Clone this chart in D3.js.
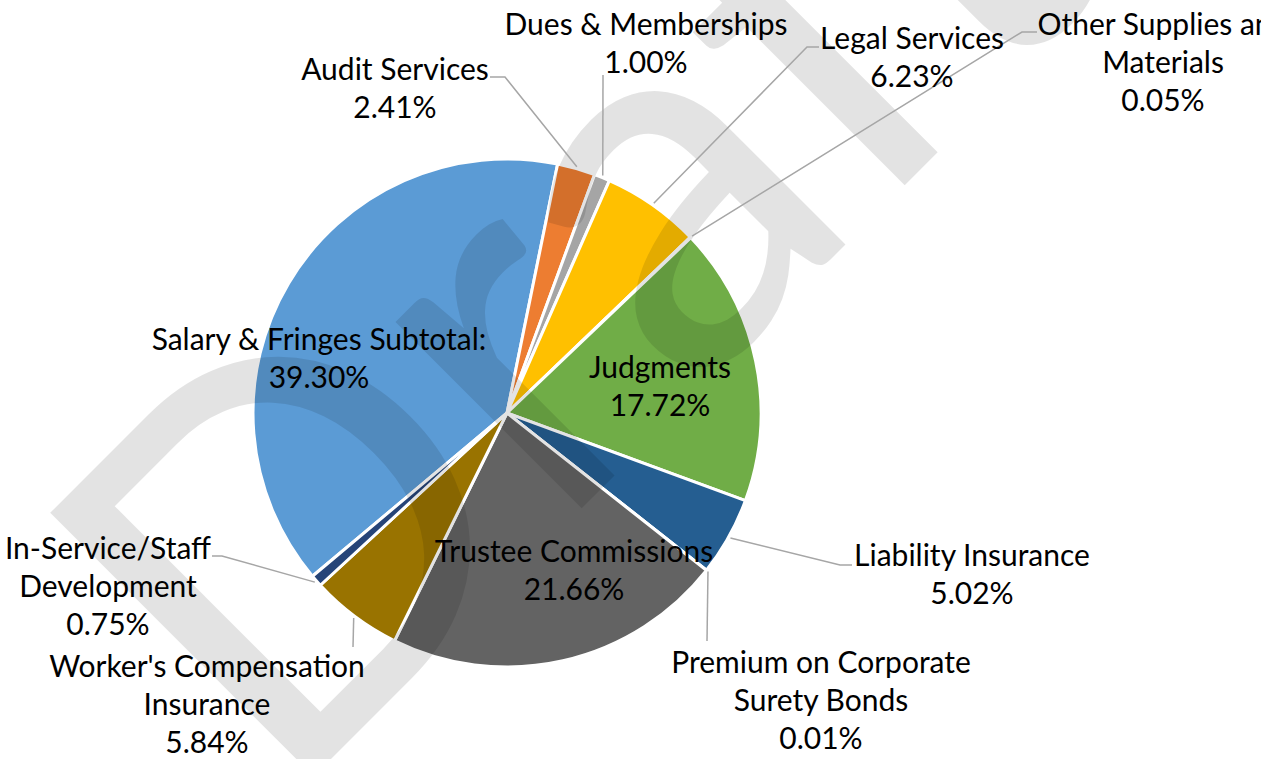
<!DOCTYPE html>
<html>
<head>
<meta charset="utf-8">
<script src="https://cdn.jsdelivr.net/npm/d3@7"></script>
<style>
  body { margin: 0; background: #fff; }
  text { font-family: Lato, "Open Sans", sans-serif; }
</style>
</head>
<body>
<div id="chart"></div>
<script>
var categories = ["Salary & Fringes Subtotal:", "Audit Services", "Dues & Memberships", "Legal Services",
  "Other Supplies and Materials", "Judgments", "Liability Insurance", "Premium on Corporate Surety Bonds",
  "Trustee Commissions", "Worker's Compensation Insurance", "In-Service/Staff Development"];
var values = [39.30, 2.41, 1.00, 6.23, 0.05, 17.72, 5.02, 0.01, 21.66, 5.84, 0.75];
var colors = ["#5B9BD5", "#ED7D31", "#A5A5A5", "#FFC000", "#4472C4", "#70AD47",
  "#255E91", "#9E480E", "#636363", "#997300", "#264478"];

// how each category name wraps in its label
var labelLines = [
  ["Salary & Fringes Subtotal:"], ["Audit Services"], ["Dues & Memberships"], ["Legal Services"],
  ["Other Supplies and", "Materials"], ["Judgments"], ["Liability Insurance"],
  ["Premium on Corporate", "Surety Bonds"], ["Trustee Commissions"],
  ["Worker's Compensation", "Insurance"], ["In-Service/Staff", "Development"]
];

// label placement: centre x, first baseline, leader line points after the slice (empty = none)
var labelPos = [
  {x: 319, y: 350, lead: []},
  {x: 395, y: 80, lead: [[505, 77], [490, 77]]},
  {x: 646, y: 35, lead: [[603, 75]]},
  {x: 912, y: 49, lead: [[807, 47], [819, 47]]},
  {x: 1163, y: 35, lead: [[1022, 32], [1037, 32]]},
  {x: 660, y: 378, lead: []},
  {x: 972, y: 566, lead: [[840, 565], [852, 565]]},
  {x: 821, y: 673, lead: [[707, 641]]},
  {x: 574, y: 562, lead: []},
  {x: 207, y: 677, lead: [[353, 647]]},
  {x: 108, y: 559, lead: [[222, 556], [212, 556]]}
];

var width = 1261;
var height = 759;
var cx = 507, cy = 413;
var radius = 254;
var lineH = 38;

var data = categories.map(function(c, i) {
  return {name: c, value: values[i], color: colors[i], lines: labelLines[i], pos: labelPos[i]};
});

var svg = d3.select("#chart")
  .append("svg")
  .attr("width", width)
  .attr("height", height);

var pie = d3.pie()
  .value(function(d) { return d.value; })
  .sort(null)
  .startAngle(230 * Math.PI / 180)
  .endAngle(590 * Math.PI / 180);

var arc = d3.arc()
  .innerRadius(0)
  .outerRadius(radius);

var g = svg.append("g")
  .attr("transform", "translate(" + cx + "," + cy + ")");

var arcs = pie(data);

g.selectAll("path")
  .data(arcs)
  .enter()
  .append("path")
  .attr("d", arc)
  .attr("fill", function(d) { return d.data.color; })
  .attr("stroke", "#fff")
  .attr("stroke-width", 3)
  .attr("stroke-linejoin", "round");

// DRAFT watermark over the pie
svg.append("text")
  .attr("transform", "translate(280,810) rotate(-45)")
  .attr("font-size", 520)
  .attr("fill", "#000")
  .attr("fill-opacity", 0.11)
  .text("Draft");

// leader lines
var fmt = d3.format(".2f");
arcs.forEach(function(a) {
  var lead = a.data.pos.lead;
  if (!lead.length) return;
  var mid = (a.startAngle + a.endAngle) / 2;
  var start = [cx + (radius + 2) * Math.sin(mid), cy - (radius + 2) * Math.cos(mid)];
  svg.append("path")
    .attr("d", d3.line()([start].concat(lead)))
    .attr("fill", "none")
    .attr("stroke", "#A6A6A6")
    .attr("stroke-width", 1.5);
});

// labels
arcs.forEach(function(a) {
  var d = a.data;
  var t = svg.append("text")
    .attr("text-anchor", "middle")
    .attr("font-size", 30)
    .attr("fill", "#000");
  d.lines.concat([fmt(d.value) + "%"]).forEach(function(s, i) {
    t.append("tspan")
      .attr("x", d.pos.x)
      .attr("y", d.pos.y + i * lineH)
      .text(s);
  });
});
</script>
</body>
</html>
